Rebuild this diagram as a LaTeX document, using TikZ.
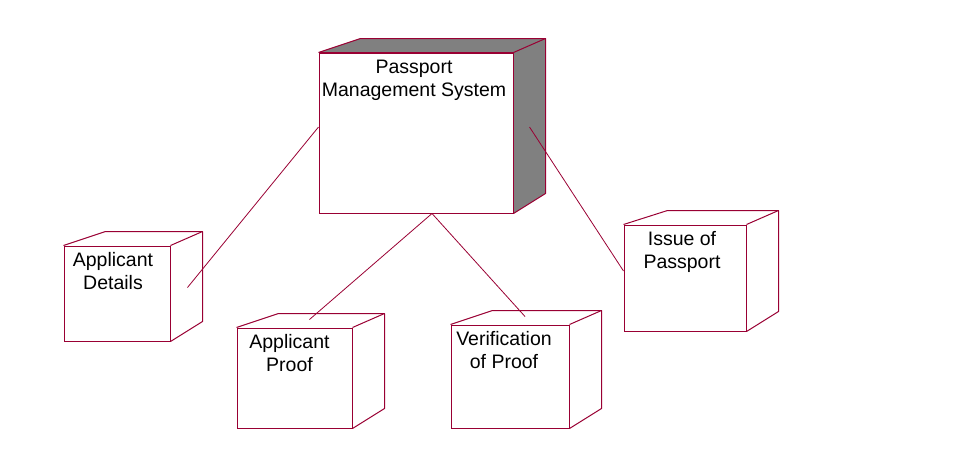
\documentclass[tikz,border=0pt]{standalone}
\usepackage{fontspec}
\setmainfont{Liberation Sans}
\usetikzlibrary{positioning}
\definecolor{nodeline}{RGB}{153,0,51}
\definecolor{sidegray}{RGB}{128,128,128}
\tikzset{
  face/.style={draw=nodeline, line width=1pt, fill=white, inner sep=0pt},
  side/.style={draw=nodeline, line width=1pt, line join=bevel},
  nodetext/.style={inner sep=0pt, align=center, font=\fontsize{19.5}{23}\selectfont},
  link/.style={draw=nodeline, line width=0.8pt}
}
\begin{document}
\begin{tikzpicture}[x=1pt,y=-1pt]
\useasboundingbox (0,0) rectangle (970,461);
% front faces
\node[face, minimum width=194pt, minimum height=160pt] (pms) at (416,133) {};
\node[face, minimum width=106pt, minimum height=95pt] (details) at (117,293.5) {};
\node[face, minimum width=115pt, minimum height=100pt] (proof) at (294.5,378) {};
\node[face, minimum width=118pt, minimum height=103pt] (verify) at (510,376.5) {};
\node[face, minimum width=122pt, minimum height=106pt] (issue) at (685,278) {};
% depth of the main node, shaded
\fill[sidegray] (pms.north west) -- ++(42,-14) -- ([shift={(32,-14)}]pms.north east)
  -- ([shift={(32,-20)}]pms.south east) -- (pms.south east) -- (pms.north east) -- cycle;
\draw[side] (pms.north west) -- ++(42,-14) -- ([shift={(32,-14)}]pms.north east)
  -- ([shift={(32,-20)}]pms.south east) -- (pms.south east);
\draw[side] (pms.north east) -- ++(32,-14);
\draw[side] (pms.north west) -- (pms.north east) -- (pms.south east);
% depth of the other nodes
\foreach \n/\d in {details/42,proof/42,verify/42,issue/44} {
  \draw[side] (\n.north west) -- ++(\d,-14) -- ([shift={(32,-14)}]\n.north east)
    -- ([shift={(32,-20)}]\n.south east) -- (\n.south east);
  \draw[side] (\n.north east) -- ++(32,-14);
}
% labels
\node[nodetext, below=7pt of pms.north, xshift=-2pt] (pmslabel) {Passport\\Management System};
\node[nodetext, below=7pt of details.north, xshift=-4pt] (detailslabel) {Applicant\\Details};
\node[nodetext, below=7pt of proof.north, xshift=-5pt] (prooflabel) {Applicant\\Proof};
\node[nodetext, below=7pt of verify.north, xshift=-6pt] (verifylabel) {Verification\\of Proof};
\node[nodetext, below=7pt of issue.north, xshift=-3pt] (issuelabel) {Issue of\\Passport};
% connectors
\draw[link] ([yshift=6pt]pms.west) -- ([shift={(17,-6)}]details.east);
\draw[link] ([xshift=16pt]pms.south) -- ([shift={(15,-8)}]proof.north);
\draw[link] ([xshift=16pt]pms.south) -- ([shift={(15,-8)}]verify.north);
\draw[link] ([shift={(16,-6)}]pms.east) -- ([yshift=7pt]issue.west);
\end{tikzpicture}
\end{document}
